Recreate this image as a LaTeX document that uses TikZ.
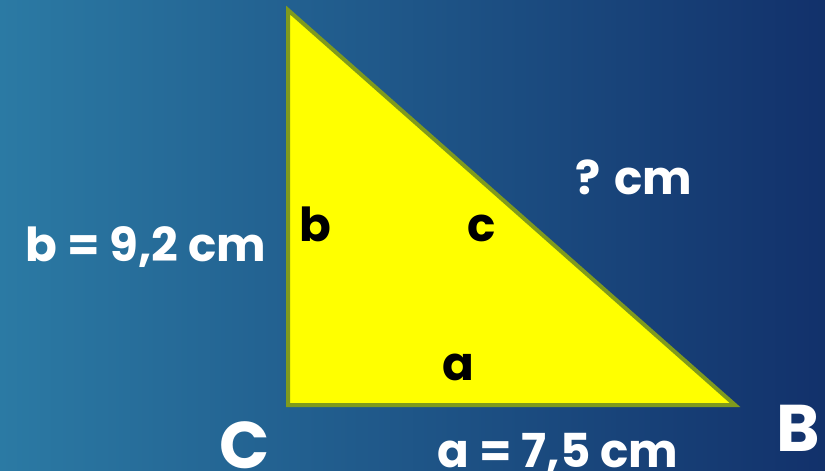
\documentclass[tikz,border=0pt]{standalone}
\usepackage{fontspec}
\setmainfont{Poppins}
\usetikzlibrary{positioning,calc}
\definecolor{bgleft}{HTML}{2B7AA4}
\definecolor{bgright}{HTML}{12316B}
\definecolor{edgegreen}{HTML}{7F9A1D}
\definecolor{yel}{HTML}{FFFF00}
\tikzset{
  lbl/.style={font=\bfseries\fontsize{23.4}{28}\selectfont, text=white, anchor=base, inner sep=0pt},
  inlbl/.style={lbl, text=black},
  vtx/.style={lbl, font=\bfseries\fontsize{33}{38}\selectfont}
}
\begin{document}
\begin{tikzpicture}[x=0.5pt,y=-0.5pt]
			\useasboundingbox (0,0) rectangle (825,471);
			\shade[left color=bgleft, right color=bgright] (0,0) rectangle (825,471);
			\coordinate (A) at (288,10);
			\coordinate (C) at (288,405);
			\coordinate (B) at (735,405);
			\filldraw[fill=yel, draw=edgegreen, line width=2pt, line join=miter] (A) -- (C) -- (B) -- cycle;
			\node[inlbl] (bin) at (315,241) {b};
			\node[inlbl] (cin) at (482,241) {c};
			\node[inlbl] (ain) at (458,380) {a};
			\node[lbl] (bval) at (146,261) {b = 9,2 cm};
			\node[lbl] (cval) at (634,194) {? cm};
			\node[lbl] (aval) at (558,467) {a = 7,5 cm};
			\node[vtx] (cvtx) at (245,468) {C};
			\node[vtx] (bvtx) at (798,451) {B};
		\end{tikzpicture}
\end{document}
